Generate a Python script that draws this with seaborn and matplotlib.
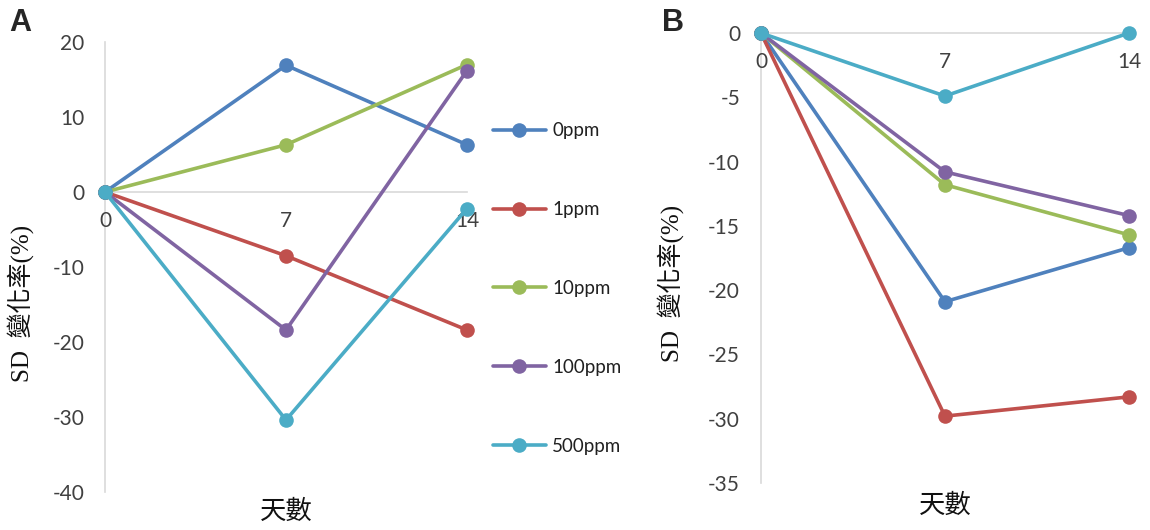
import matplotlib
matplotlib.use("Agg")
import matplotlib.pyplot as plt
import seaborn as sns
import pandas as pd

days = [0, 7, 14]
series = ["0ppm", "1ppm", "10ppm", "100ppm", "500ppm"]
colors = ["#4F81BD", "#C0504D", "#9BBB59", "#8064A2", "#4BACC6"]

# Panel A values (SD change %)
a_0ppm = [0, 16.9, 6.3]
a_1ppm = [0, -8.5, -18.4]
a_10ppm = [0, 6.3, 17.0]
a_100ppm = [0, -18.4, 16.2]
a_500ppm = [0, -30.4, -2.2]

# Panel B values
b_0ppm = [0, -20.9, -16.7]
b_1ppm = [0, -29.8, -28.3]
b_10ppm = [0, -11.8, -15.7]
b_100ppm = [0, -10.8, -14.2]
b_500ppm = [0, -4.9, 0]

a_yticks = [-40, -30, -20, -10, 0, 10, 20]
b_yticks = [-35, -30, -25, -20, -15, -10, -5, 0]


def long_df(vals):
    rows = []
    for name, v in zip(series, vals):
        for d, y in zip(days, v):
            rows.append({"day": d, "val": y, "conc": name})
    return pd.DataFrame(rows)


dfA = long_df([a_0ppm, a_1ppm, a_10ppm, a_100ppm, a_500ppm])
dfB = long_df([b_0ppm, b_1ppm, b_10ppm, b_100ppm, b_500ppm])

sns.set_theme(style="white")
plt.rcParams["font.family"] = ["Lato", "Noto Sans CJK TC", "DejaVu Sans"]
plt.rcParams["axes.unicode_minus"] = False

fig = plt.figure(figsize=(11.5, 5.3), dpi=100)
axA = fig.add_axes([0.0913, 0.0717, 0.3148, 0.849])
axB = fig.add_axes([0.6617, 0.0887, 0.32, 0.849])

tick_color = "#404040"
spine_color = "#D9D9D9"

for ax, df, yl, yt, lab_xy, xl_y in [
    (axA, dfA, (-40, 20), a_yticks, (-0.197, 0.42), -0.013),
    (axB, dfB, (-35, 0), b_yticks, (-0.21, 0.444), -0.02),
]:
    sns.lineplot(data=df, x="day", y="val", hue="conc", hue_order=series,
                 palette=colors, marker="o", markersize=10.5, markeredgewidth=0,
                 linewidth=2.6, ax=ax, legend=(ax is axA), clip_on=False)
    ax.set_xlim(0, 14)
    ax.set_ylim(*yl)
    ax.set_yticks(yt)
    ax.set_xticks(days)
    ax.set_xticklabels([str(d) for d in days])
    ax.spines["top"].set_visible(False)
    ax.spines["right"].set_visible(False)
    ax.spines["bottom"].set_position(("data", 0))
    for s in ("left", "bottom"):
        ax.spines[s].set_color(spine_color)
        ax.spines[s].set_linewidth(1.2)
        ax.spines[s].set_zorder(0)
    ax.tick_params(axis="y", length=0, pad=15, labelsize=15, labelcolor=tick_color)
    ax.tick_params(axis="x", length=0, pad=14, labelsize=15, labelcolor=tick_color)
    ax.set_xlabel("天數", fontsize=19, family=["Noto Sans CJK TC"], color="#111111")
    ax.xaxis.set_label_coords(0.5, xl_y)
    ax.set_ylabel("SD  變化率(%)", fontsize=18,
                  family=["Liberation Serif", "Noto Sans CJK TC"], color="#111111")
    ax.yaxis.set_label_coords(*lab_xy)
    ax.set_facecolor("white")

handles, labels = axA.get_legend_handles_labels()
axA.get_legend().remove()
leg = fig.legend(handles, labels, loc="center left", bbox_to_anchor=(0.4287, 0.4557),
                 frameon=False, fontsize=13.5, labelspacing=3.3, handlelength=2.8,
                 handletextpad=0.35, borderpad=0, borderaxespad=0)
for t in leg.get_texts():
    t.set_color("#202020")

fig.text(0.008, 0.985, "A", fontsize=22, fontweight="bold", va="top", ha="left",
         family=["Liberation Sans"])
fig.text(0.576, 0.985, "B", fontsize=22, fontweight="bold", va="top", ha="left",
         family=["Liberation Sans"])

fig.savefig("out.png", dpi=100, facecolor="white")
